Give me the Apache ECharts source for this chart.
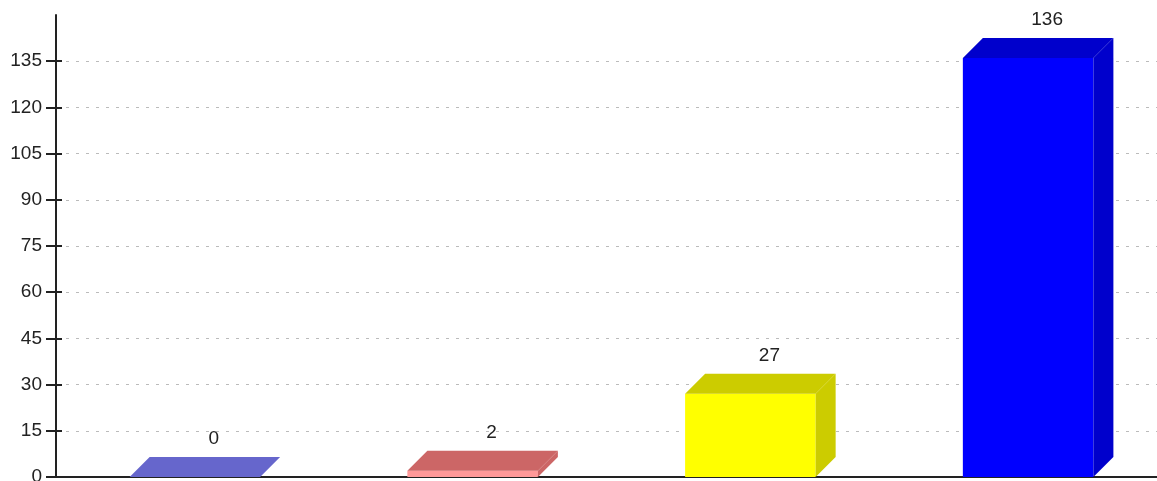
<!DOCTYPE html>
<html>
<head>
<meta charset="utf-8">
<script src="https://cdn.jsdelivr.net/npm/echarts@6/dist/echarts.min.js"></script>
<style>
  html, body { margin: 0; padding: 0; background: #fff; }
  #main { width: 1157px; height: 481px; }
</style>
</head>
<body>
<div id="main"></div>
<script>
// data
var categories = ['A', 'B', 'C', 'D'];
var values = [0, 2, 27, 136];
var tickValues = [0, 15, 30, 45, 60, 75, 90, 105, 120, 135];

// colours: front face / top+side face
var frontColors = ['#8080ff', '#ff9999', '#ffff00', '#0000ff'];
var shadeColors = ['#6666cc', '#cc6666', '#cccc00', '#0000cc'];

var DEPTH = 20;

var myChart = echarts.init(document.getElementById('main'));

var option = {
    animation: false,
    grid: {
        left: 56,
        right: -10,
        top: 15,
        bottom: 4,
        containLabel: false,
        outerBoundsMode: 'none'
    },
    xAxis: {
        type: 'category',
        data: categories,
        axisLine: { show: true, lineStyle: { color: '#222', width: 2 } },
        axisTick: { show: false },
        axisLabel: { show: false },
        splitLine: { show: false }
    },
    yAxis: [
        {
            type: 'value',
            min: 0,
            max: 150,
            interval: 15,
            axisLine: { show: true, lineStyle: { color: '#222', width: 2 } },
            axisTick: {
                show: true,
                length: 10,
                customValues: tickValues,
                lineStyle: { color: '#222', width: 2 }
            },
            axisLabel: {
                customValues: tickValues,
                margin: 14,
                fontFamily: 'Liberation Sans, Arial, sans-serif',
                fontSize: 19,
                color: '#222'
            },
            splitLine: {
                show: true,
                lineStyle: { color: '#bbb', type: [3, 7], width: 1 }
            }
        },
        {
            // inner half of the ticks that cross the axis
            type: 'value',
            position: 'left',
            min: 0,
            max: 150,
            interval: 15,
            axisLine: { show: false },
            axisTick: {
                show: true,
                inside: true,
                length: 6,
                customValues: tickValues,
                lineStyle: { color: '#222', width: 2 }
            },
            axisLabel: { show: false },
            splitLine: { show: false }
        }
    ],
    series: [
        {
            type: 'custom',
            data: values.map(function (v, i) { return [i, v]; }),
            encode: { x: 0, y: 1 },
            renderItem: function (params, api) {
                var i = params.dataIndex;
                var base = api.coord([api.value(0), 0]);
                var top = api.coord([api.value(0), api.value(1)]);
                var w = api.size([1, 0])[0] * 0.47;
                var x0 = base[0] - w / 2, x1 = base[0] + w / 2;
                var yb = base[1], yt = top[1];
                var d = DEPTH;
                return {
                    type: 'group',
                    children: [
                        {
                            type: 'rect',
                            shape: { x: x0, y: yt, width: w, height: yb - yt },
                            style: { fill: frontColors[i] }
                        },
                        {
                            type: 'polygon',
                            shape: { points: [[x0, yt], [x0 + d, yt - d], [x1 + d, yt - d], [x1, yt]] },
                            style: { fill: shadeColors[i] }
                        },
                        {
                            type: 'polygon',
                            shape: { points: [[x1, yt], [x1 + d, yt - d], [x1 + d, yb - d], [x1, yb]] },
                            style: { fill: shadeColors[i] }
                        },
                        {
                            type: 'text',
                            style: {
                                x: base[0] + 19,
                                y: yt - d - 18,
                                text: String(api.value(1)),
                                align: 'center',
                                verticalAlign: 'middle',
                                fontFamily: 'Liberation Sans, Arial, sans-serif',
                                fontSize: 19,
                                fill: '#222'
                            }
                        }
                    ]
                };
            }
        }
    ]
};

myChart.setOption(option, true);
window.onresize = myChart.resize;
</script>
</body>
</html>
